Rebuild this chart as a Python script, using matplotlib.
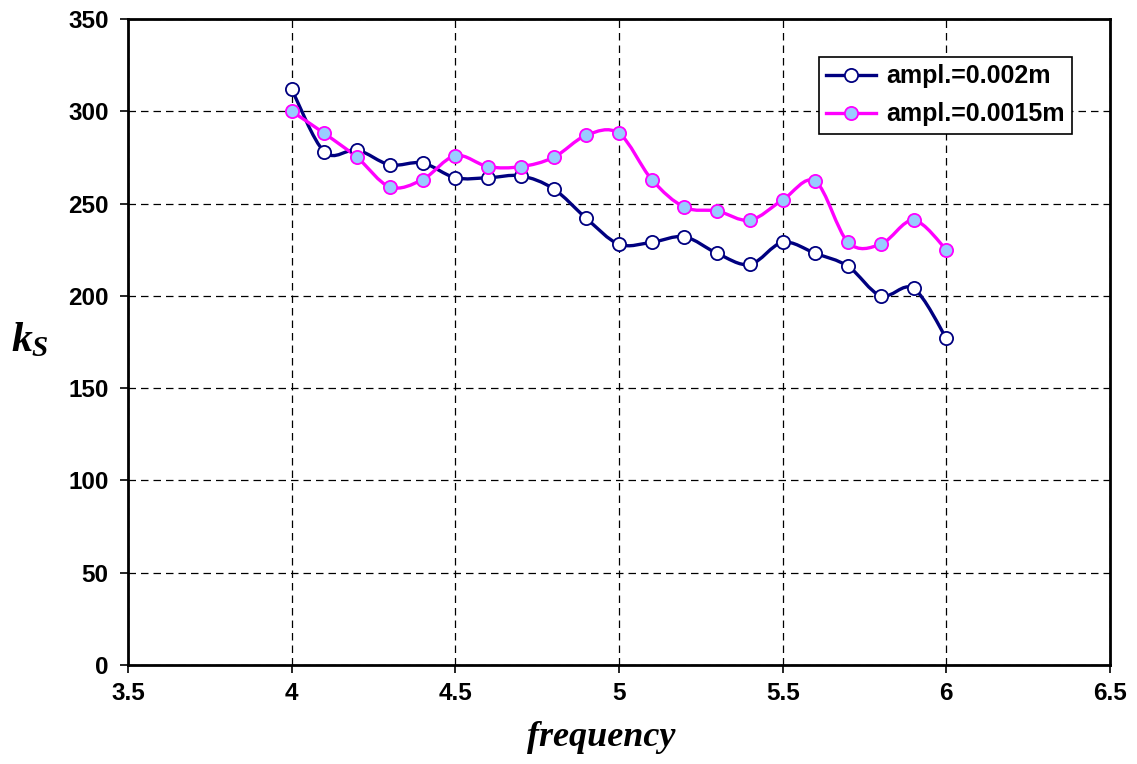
"""k_S versus excitation frequency for two vibration amplitudes."""

import numpy as np
from matplotlib import pyplot as plt
from matplotlib.path import Path
from matplotlib.patches import PathPatch

plt.rcParams["font.family"] = ["Liberation Sans", "DejaVu Sans"]
plt.rcParams["mathtext.fontset"] = "custom"
plt.rcParams["mathtext.it"] = "Liberation Serif:italic:bold"
plt.rcParams["mathtext.rm"] = "Liberation Serif:bold"

frequency = [4.0, 4.1, 4.2, 4.3, 4.4, 4.5, 4.6, 4.7, 4.8, 4.9, 5.0,
             5.1, 5.2, 5.3, 5.4, 5.5, 5.6, 5.7, 5.8, 5.9, 6.0]
ks_002 = [312, 278, 279, 271, 272, 264, 264, 265, 258, 242, 228,
          229, 232, 223, 217, 229, 223, 216, 200, 204, 177]
ks_0015 = [300, 288, 275, 259, 263, 276, 270, 270, 275, 287, 288,
           263, 248, 246, 241, 252, 262, 229, 228, 241, 225]

NAVY = "#000080"
MAGENTA = "#FF00FF"
LIGHT_BLUE = "#99CCFF"


def smooth_path(xs, ys):
    # Excel-style smoothed line: cubic Bezier segments through every point
    pts = np.column_stack([xs, ys]).astype(float)
    verts = [pts[0]]
    codes = [Path.MOVETO]
    n = len(pts)
    for i in range(n - 1):
        p0 = pts[max(i - 1, 0)]
        p1 = pts[i]
        p2 = pts[i + 1]
        p3 = pts[min(i + 2, n - 1)]
        c1 = p1 + (p2 - p0) / 6.0
        c2 = p2 - (p3 - p1) / 6.0
        verts += [c1, c2, p2]
        codes += [Path.CURVE4] * 3
    return Path(verts, codes)


fig = plt.figure(figsize=(11.37, 7.64), dpi=100)
ax = fig.add_axes([128 / 1137, 99 / 764, 982 / 1137, 646 / 764])

series = [
    ("ampl.=0.002m", ks_002, NAVY, "white"),
    ("ampl.=0.0015m", ks_0015, MAGENTA, LIGHT_BLUE),
]
for label, ks, color, face in series:
    ax.add_patch(PathPatch(smooth_path(frequency, ks), facecolor="none",
                           edgecolor=color, linewidth=2.4, zorder=3))
    ax.plot(frequency, ks, linestyle="none", marker="o", markersize=9.5,
            markerfacecolor=face, markeredgecolor=color, markeredgewidth=1.3,
            zorder=4)
    # legend proxy
    ax.plot([], [], color=color, linewidth=2.4, marker="o", markersize=9.5,
            markerfacecolor=face, markeredgecolor=color, markeredgewidth=1.3,
            label=label)

ax.set_xlim(3.5, 6.5)
ax.set_ylim(0, 350)
ax.set_xticks(np.arange(3.5, 6.51, 0.5))
ax.set_xticklabels(["3.5", "4", "4.5", "5", "5.5", "6", "6.5"])
ax.set_yticks(np.arange(0, 351, 50))
ax.grid(True, color="black", linestyle=(0, (6, 4)), linewidth=0.9)
ax.set_axisbelow(True)
for spine in ax.spines.values():
    spine.set_linewidth(2.0)
    spine.set_color("black")
ax.tick_params(direction="out", length=6, width=1.2, labelsize=17.5)
ax.tick_params(axis="x", pad=6)
ax.tick_params(axis="y", pad=8)
for lab in ax.get_xticklabels() + ax.get_yticklabels():
    lab.set_fontweight("bold")

ax.set_xlabel("frequency", fontsize=26, fontweight="bold", style="italic",
              family="Liberation Serif", va="center")
ax.xaxis.set_label_coords(473 / 982, -72 / 646)
ax.set_ylabel(r"$k_S$", fontsize=30, rotation=0, va="center", ha="center")
ax.yaxis.set_label_coords(-98 / 982, 325 / 646)

legend = ax.legend(loc="upper right", bbox_to_anchor=(944 / 982, 608 / 646),
                   prop={"weight": "bold", "size": 18},
                   frameon=True, fancybox=False, handlelength=2.0,
                   handletextpad=0.4, borderpad=0.3, labelspacing=0.55,
                   borderaxespad=0)
legend.get_frame().set_edgecolor("black")
legend.get_frame().set_linewidth(1.2)
legend.get_frame().set_alpha(1)

fig.savefig("out.png", dpi=100, facecolor="white")
